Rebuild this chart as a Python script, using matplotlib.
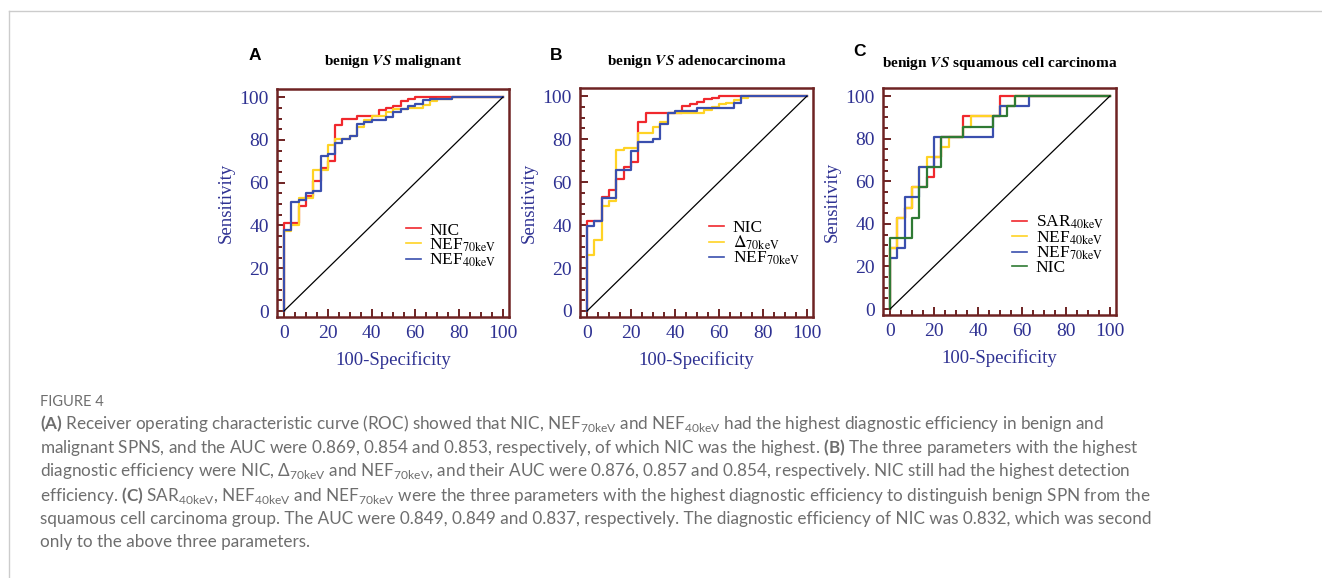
import matplotlib
matplotlib.use("Agg")
import matplotlib.pyplot as plt
from matplotlib.font_manager import FontProperties
from matplotlib.lines import Line2D

plt.rcParams["mathtext.fontset"] = "custom"
plt.rcParams["mathtext.rm"] = "Lato"
plt.rcParams["mathtext.bf"] = "Lato:bold"

# ---- data: ROC step vertices (100-Specificity, Sensitivity), steps-post ----
# Panel A: benign vs malignant
a_nic_x = [0, 0, 6.7, 10, 13.3, 16.7, 20, 23.3, 26.7, 33.3, 43.3, 46.7, 50, 53.3, 56.7, 60, 100]
a_nic_y = [0, 41, 49, 54, 61, 67, 70, 87, 90, 91, 94, 95, 96, 98, 99, 100, 100]
a_nef70_x = [0, 0, 3.3, 6.7, 13.3, 20, 23.3, 30, 33.3, 36.7, 40, 46.7, 50, 56.7, 63.3, 66.7, 70, 76.7, 100]
a_nef70_y = [0, 37.5, 40, 53, 66, 77.5, 80.5, 82, 86, 89.5, 91, 93, 94.5, 95, 96.5, 98, 99, 100, 100]
a_nef40_x = [0, 0, 3.3, 6.7, 10, 13.3, 16.7, 20, 23.3, 26.7, 30, 33.3, 36.7, 40, 46.7, 50, 53.3,
             56.7, 60, 63.3, 66.7, 76.7, 100]
a_nef40_y = [0, 38, 51, 52, 55, 56, 72.5, 73.5, 78.5, 80.5, 82, 87.5, 88.5, 89.5, 90.5, 93, 94.5,
             96, 97, 98.5, 99, 100, 100]

# Panel B: benign vs adenocarcinoma
b_nic_x = [0, 0, 6.7, 10, 13.3, 16.7, 20, 23.3, 26.7, 43.3, 46.7, 50, 53.3, 56.7, 60, 100]
b_nic_y = [0, 42, 53, 56.5, 61.5, 67, 69.5, 88, 92, 95.5, 96.5, 97.5, 98.5, 99, 100, 100]
b_d70_x = [0, 0, 3.3, 6.7, 10, 13.3, 16.7, 23.3, 30, 33.3, 36.7, 53.3, 56.7, 60, 63.3, 66.7, 70, 73.3, 100]
b_d70_y = [0, 26, 33, 49, 51, 75, 76, 83, 85.5, 88, 92, 93.5, 95, 96.5, 97, 98, 99, 100, 100]
b_nef70_x = [0, 0, 3.3, 6.7, 13.3, 20, 23.3, 30, 33.3, 36.7, 40, 50, 66.7, 70, 100]
b_nef70_y = [0, 39.5, 42, 52.8, 65.6, 74.7, 78.6, 80.2, 86.9, 92.2, 93, 94.5, 97, 100, 100]

# Panel C: benign vs squamous cell carcinoma
c_sar40_x = [0, 0, 3.3, 6.7, 10, 16.7, 20, 23.3, 33.3, 50, 100]
c_sar40_y = [0, 28.6, 42.9, 47.6, 57.1, 61.9, 71.4, 81, 90.5, 100, 100]
c_nef40_x = [0, 0, 3.3, 6.7, 10, 13.3, 16.7, 23.3, 26.7, 33.3, 36.7, 50, 56.7, 100]
c_nef40_y = [0, 28.6, 42.9, 47.6, 57.1, 66.7, 71.4, 76.2, 81, 85.7, 90.5, 95.2, 100, 100]
c_nef70_x = [0, 0, 3.3, 6.7, 13.3, 20, 46.7, 50, 63.3, 100]
c_nef70_y = [0, 23.8, 28.6, 52.4, 66.7, 81, 90.5, 95.2, 100, 100]
c_nic_x = [0, 0, 10, 13.3, 16.7, 23.3, 33.3, 46.7, 53.3, 56.7, 100]
c_nic_y = [0, 33.3, 42.9, 57.1, 66.7, 81, 85.7, 90.5, 95.2, 100, 100]

ref_line = [0, 100]

RED = "#f0282d"
YELLOW = "#ffd325"
BLUE = "#3a4fae"
GREEN = "#2f7a34"
FRAME = "#6e2323"
NAVY = "#2e3192"
CAPTION = "#6e6e6e"

W, H = 1322, 578
fig = plt.figure(figsize=(W / 100, H / 100), dpi=100)


def px_axes(left, top, width, height):
    return fig.add_axes([left / W, 1 - (top + height) / H, width / W, height / H])


panels = [
    dict(box=(277, 89, 232, 228), letter="A", lx=255, ly=55,
         title=r"benign $\mathbfit{VS}$ malignant", ty=62,
         curves=[(a_nic_x, a_nic_y, RED, r"NIC"),
                 (a_nef70_x, a_nef70_y, YELLOW, r"NEF$_{\mathrm{70keV}}$"),
                 (a_nef40_x, a_nef40_y, BLUE, r"NEF$_{\mathrm{40keV}}$")],
         leg=(0.555, 0.415)),
    dict(box=(580, 88, 233, 229), letter="B", lx=556, ly=55,
         title=r"benign $\mathbfit{VS}$ adenocarcinoma", ty=62,
         curves=[(b_nic_x, b_nic_y, RED, r"NIC"),
                 (b_d70_x, b_d70_y, YELLOW, r"$\Delta_{\mathrm{70keV}}$"),
                 (b_nef70_x, b_nef70_y, BLUE, r"NEF$_{\mathrm{70keV}}$")],
         leg=(0.555, 0.425)),
    dict(box=(883, 88, 233, 227), letter="C", lx=859, ly=52,
         title=r"benign $\mathbfit{VS}$ squamous cell carcinoma", ty=64,
         curves=[(c_sar40_x, c_sar40_y, RED, r"SAR$_{\mathrm{40keV}}$"),
                 (c_nef40_x, c_nef40_y, YELLOW, r"NEF$_{\mathrm{40keV}}$"),
                 (c_nef70_x, c_nef70_y, BLUE, r"NEF$_{\mathrm{70keV}}$"),
                 (c_nic_x, c_nic_y, GREEN, r"NIC")],
         leg=(0.555, 0.445)),
]

serif = "Liberation Serif"

for p in panels:
    left, top, width, height = p["box"]
    ax = px_axes(left, top, width, height)
    for x, y, color, label in p["curves"]:
        ax.plot(x, y, drawstyle="steps-post", color=color, lw=1.6, label=label)
    ax.plot(ref_line, ref_line, color="black", lw=0.9)

    ax.set_xlim(-3.2, 102.8)
    ax.set_ylim(-2.8, 103.8)
    ax.set_xticks(range(0, 101, 20))
    ax.set_yticks(range(0, 101, 20))
    ax.set_xticks(range(0, 101, 5), minor=True)
    ax.set_yticks(range(0, 101, 5), minor=True)
    ax.tick_params(which="both", direction="in", color=FRAME, width=1.4,
                   top=False, right=False)
    ax.tick_params(which="major", length=6, pad=6, labelcolor=NAVY, labelsize=14)
    ax.tick_params(which="minor", length=3.5)
    for lab in ax.get_xticklabels() + ax.get_yticklabels():
        lab.set_fontfamily(serif)
    for sp in ax.spines.values():
        sp.set_color(FRAME)
        sp.set_linewidth(1.8)

    ax.set_xlabel("100-Specificity", fontfamily=serif, fontsize=13.5, color=NAVY, labelpad=6)
    ax.set_ylabel("Sensitivity", fontfamily=serif, fontsize=13.5, color=NAVY, labelpad=3)

    leg = ax.legend(loc="upper left", bbox_to_anchor=p["leg"], frameon=False,
                    prop=FontProperties(family=serif, size=12.5, math_fontfamily="stix"),
                    handlelength=0.85, handletextpad=0.5, labelspacing=-0.12,
                    borderpad=0, borderaxespad=0)
    for h in leg.get_lines():
        h.set_linewidth(1.2)

    fig.text((left + width / 2) / W, 1 - p["ty"] / H, p["title"], ha="center", va="center",
             fontfamily=serif, fontweight="bold", fontsize=11,
             math_fontfamily="stix")
    fig.text(p["lx"] / W, 1 - p["ly"] / H, p["letter"], ha="center", va="center",
             fontfamily="Liberation Sans", fontweight="bold", fontsize=12.5)

# figure frame lines
fig.add_artist(Line2D([9 / W, 9 / W], [0, 1 - 11 / H], transform=fig.transFigure,
                      color="#cccccc", lw=1))
fig.add_artist(Line2D([9 / W, 1], [1 - 11 / H, 1 - 11 / H], transform=fig.transFigure,
                      color="#cccccc", lw=1))

# caption
caption_lines = [
    r"$\mathbf{(A)}$ Receiver operating characteristic curve (ROC) showed that NIC, NEF$_{\mathrm{70keV}}$ "
    r"and NEF$_{\mathrm{40keV}}$ had the highest diagnostic efficiency in benign and",
    r"malignant SPNS, and the AUC were 0.869, 0.854 and 0.853, respectively, of which NIC was the "
    r"highest. $\mathbf{(B)}$ The three parameters with the highest",
    r"diagnostic efficiency were NIC, $\Delta_{\mathrm{70keV}}$ and NEF$_{\mathrm{70keV}}$, and their AUC "
    r"were 0.876, 0.857 and 0.854, respectively. NIC still had the highest detection",
    r"efficiency. $\mathbf{(C)}$ SAR$_{\mathrm{40keV}}$, NEF$_{\mathrm{40keV}}$ and NEF$_{\mathrm{70keV}}$ "
    r"were the three parameters with the highest diagnostic efficiency to distinguish benign SPN from the",
    r"squamous cell carcinoma group. The AUC were 0.849, 0.849 and 0.837, respectively. The diagnostic "
    r"efficiency of NIC was 0.832, which was second",
    r"only to the above three parameters.",
]
caption_y = [424, 448, 471, 495, 519, 542]

fig.text(40 / W, 1 - 402 / H, "FIGURE 4", ha="left", va="center",
         fontfamily="Lato", fontsize=10.5, color=CAPTION)
for line, y in zip(caption_lines, caption_y):
    fig.text(40 / W, 1 - y / H, line, ha="left", va="center",
             fontfamily="Lato", fontsize=12.3, color=CAPTION, math_fontfamily="custom")

fig.savefig("out.png", dpi=100)
